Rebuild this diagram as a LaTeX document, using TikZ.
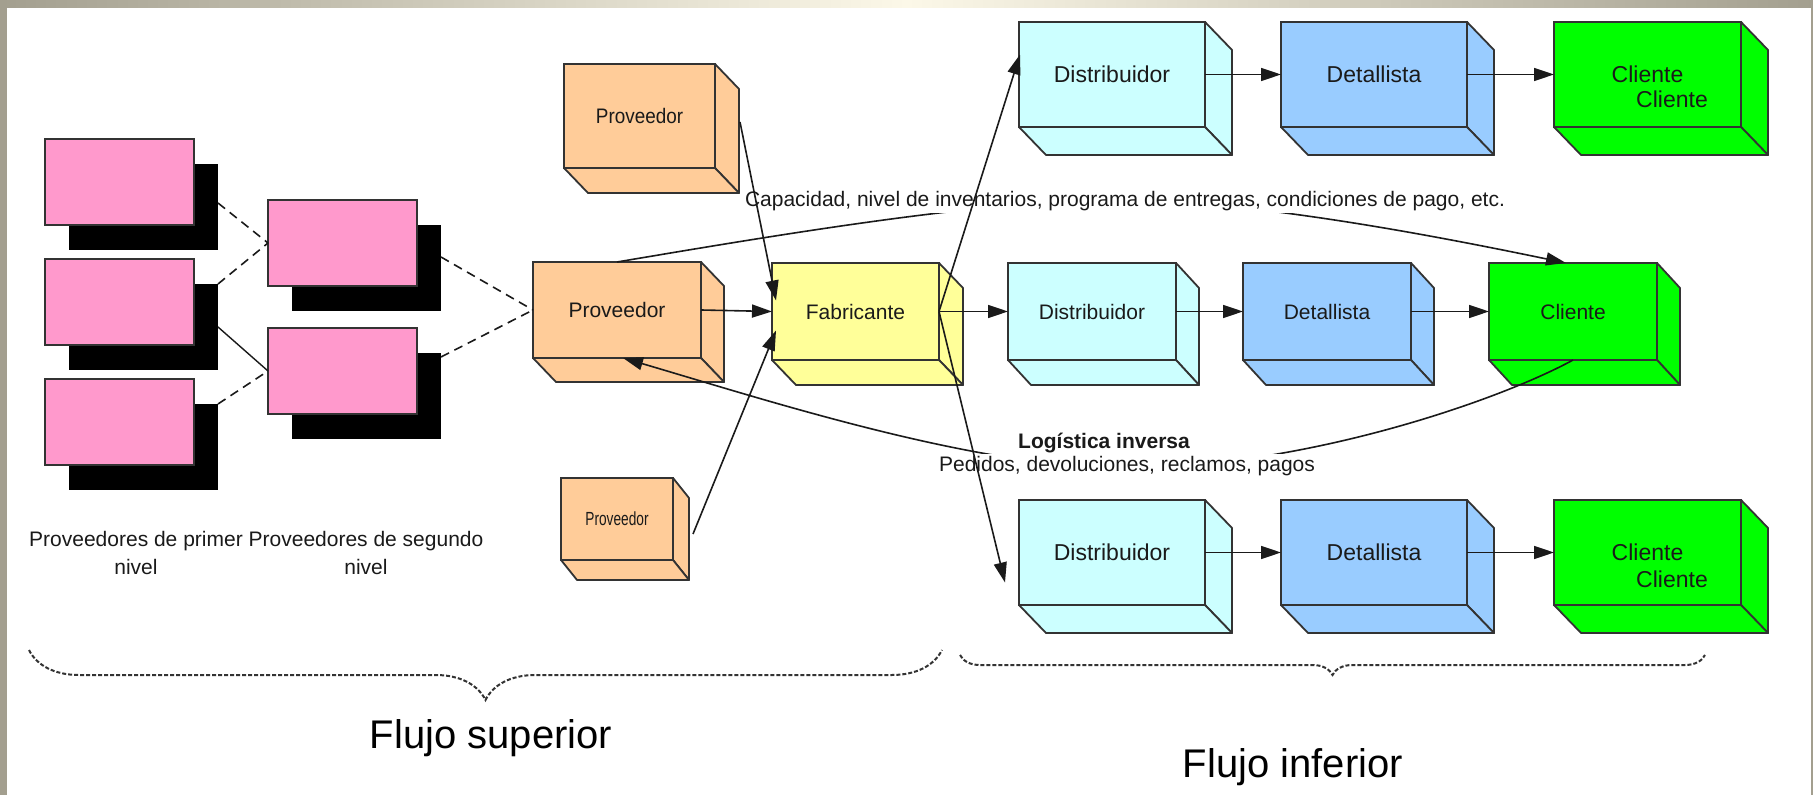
\documentclass[tikz,border=0pt]{standalone}
\usepackage{fontspec}
\setmainfont{Liberation Sans}
\usepackage{graphicx}
\usetikzlibrary{arrows.meta,calc,decorations.pathreplacing}
\definecolor{framegray}{HTML}{A39F8F}
\definecolor{framecream}{HTML}{FCF8E8}
\definecolor{edgecol}{HTML}{333333}
\definecolor{linecol}{HTML}{1A1A1A}
\definecolor{txtcol}{HTML}{1A1A1A}
\definecolor{pinkc}{HTML}{FF99CC}
\definecolor{peach}{HTML}{FFCC99}
\definecolor{yell}{HTML}{FFFF99}
\definecolor{cyanc}{HTML}{CCFFFF}
\definecolor{bluec}{HTML}{99CCFF}
\definecolor{greenc}{HTML}{00FF00}
\definecolor{bracecol}{HTML}{333333}
\newcommand{\myfsA}{\fontsize{11.5}{13.8}\selectfont}
\newcommand{\myfsB}{\fontsize{10.5}{12.6}\selectfont}
\newcommand{\mycube}[9]{%
  \node[cubeface, fill=#8, minimum width=#4*0.5pt, minimum height=#5*0.5pt, anchor=north west] (#1) at (#2,#3) {#9};
  \filldraw[cubeedge, fill=#8] (#1.north east) -- ++(#6,#7) -- ++(0,#5) -- (#1.south east) -- cycle;
  \filldraw[cubeedge, fill=#8] (#1.south west) -- ++(#6,#7) -- ++(#4,0) -- (#1.south east) -- cycle;
}
\begin{document}
\begin{tikzpicture}[x=0.5pt,y=-0.5pt,
  cubeface/.style={draw=edgecol, line width=0.9pt, inner sep=0pt, outer sep=0pt, text=txtcol},
  cubeedge/.style={draw=edgecol, line width=0.9pt, line join=round},
  conn/.style={draw=linecol, line width=0.8pt, -{Triangle[length=10pt,width=6.5pt]}},
  plainline/.style={draw=linecol, line width=0.7pt},
  dashline/.style={draw=linecol, line width=0.8pt, dash pattern=on 4.5pt off 3pt},
  pinkbox/.style={draw=edgecol, fill=pinkc, line width=0.8pt, minimum width=74.5pt, minimum height=43pt, inner sep=0pt, outer sep=0pt, anchor=north west},
  shadowbox/.style={fill=black, minimum width=74.5pt, minimum height=43pt, inner sep=0pt, outer sep=0pt, anchor=north west},
  lbl/.style={text=txtcol, inner sep=1pt, font=\myfsB},
  bracestyle/.style={draw=bracecol, line width=1pt, dash pattern=on 2pt off 1pt, decorate},
  flujo/.style={text=black, font=\fontsize{20}{24}\selectfont}
]
\useasboundingbox (0,0) rectangle (1813,795);
\fill[white] (0,0) rectangle (1813,795);
\shade[left color=framegray, right color=framegray, middle color=framecream] (0,0) rectangle (1813,8);
\fill[framegray] (0,0) rectangle (7,795);
\fill[framegray] (1811,0) rectangle (1813,795);

% pink supplier boxes
\node[shadowbox] (p1as) at (69,164) {};
\node[pinkbox] (p1a) at (45,139) {};
\node[shadowbox] (p1bs) at (69,284) {};
\node[pinkbox] (p1b) at (45,259) {};
\node[shadowbox] (p1cs) at (69,404) {};
\node[pinkbox] (p1c) at (45,379) {};
\node[shadowbox] (p2as) at (292,225) {};
\node[pinkbox] (p2a) at (268,200) {};
\node[shadowbox] (p2bs) at (292,353) {};
\node[pinkbox] (p2b) at (268,328) {};

\node[lbl, align=center, font=\fontsize{10.5}{14}\selectfont] (l1) at (136,553) {Proveedores de primer\\nivel};
\node[lbl, align=center, font=\fontsize{10.5}{14}\selectfont] (l2) at (366,553) {Proveedores de segundo\\nivel};

% cubes
\mycube{provTop}{564}{64}{151}{104}{24}{25}{peach}{\myfsB\scalebox{0.9}[1]{Proveedor}}
\mycube{provMain}{533}{262}{168}{96}{23}{24}{peach}{\myfsB Proveedor}
\mycube{fab}{772}{263}{167}{97}{24}{25}{yell}{\myfsB Fabricante}
\mycube{provBot}{561}{478}{112}{82}{16}{20}{peach}{\fontsize{9.5}{11}\selectfont\scalebox{0.72}[1]{Proveedor}}

\mycube{dist1}{1019}{22}{186}{105}{27}{28}{cyanc}{\myfsA Distribuidor}
\mycube{det1}{1281}{22}{186}{105}{27}{28}{bluec}{\myfsA Detallista}
\mycube{cli1}{1554}{22}{187}{105}{27}{28}{greenc}{\myfsA Cliente}
\node[lbl, font=\myfsA] (cli1b) at (1672,99) {Cliente};

\mycube{dist2}{1008}{263}{168}{97}{23}{25}{cyanc}{\myfsB Distribuidor}
\mycube{det2}{1243}{263}{168}{97}{23}{25}{bluec}{\myfsB Detallista}
\mycube{cli2}{1489}{263}{168}{97}{23}{25}{greenc}{\myfsB Cliente}

\mycube{dist3}{1019}{500}{186}{105}{27}{28}{cyanc}{\myfsA Distribuidor}
\mycube{det3}{1281}{500}{186}{105}{27}{28}{bluec}{\myfsA Detallista}
\mycube{cli3}{1554}{500}{187}{105}{27}{28}{greenc}{\myfsA Cliente}
\node[lbl, font=\myfsA] (cli3b) at (1672,579) {Cliente};

% dashed / solid links between suppliers
\draw[dashline] ($(p1as.north east)+(0,39)$) -- (p2a.west);
\draw[dashline] (p1bs.north east) -- (p2a.west);
\draw[plainline] (p1bs.east) -- (p2b.west);
\draw[dashline] (p1cs.north east) -- (p2b.west);
\draw[dashline] ($(p2as.north east)+(0,32)$) -- (provMain.west);
\draw[dashline] ($(p2bs.north east)+(0,4)$) -- (provMain.west);

% curved information flows
\coordinate (capmid) at (1117,200);
\draw[conn] (provMain.north) .. controls +(143,-24) and +(-137,0) .. (capmid)
  .. controls +(133,0) and +(-130,-27) .. ($(cli2.north)+(-7,0)$);
\coordinate (logmid) at (1125,468);
\draw[conn] (cli2.south) .. controls +(-73,40) and +(180,0) .. (logmid)
  .. controls +(-150,0) and +(143,42) .. ($(provMain.south)+(6,0)$);

% labels hiding curves
\node[lbl, fill=white] (cap) at (1125,201) {Capacidad, nivel de inventarios, programa de entregas, condiciones de pago, etc.};
\node[lbl, fill=white, font=\myfsB\bfseries] (logi) at (1104,443) {Logística inversa};
\node[lbl, fill=white] (ped) at (1127,466) {Pedidos, devoluciones, reclamos, pagos};

% straight connectors
\draw[conn] ($(provTop.east)+(25,6)$) -- ($(fab.west)+(4,-11)$);
\draw[conn] (provMain.east) -- (fab.west);
\draw[conn] ($(provBot.east)+(20,15)$) -- ($(fab.west)+(4,19)$);
\draw[conn] (fab.east) -- ($(dist1.west)+(1,-20)$);
\draw[conn] (fab.east) -- (dist2.west);
\draw[conn] (fab.east) -- ($(dist3.west)+(-14,30)$);
\draw[conn] (dist1.east) -- (det1.west);
\draw[conn] (det1.east) -- (cli1.west);
\draw[conn] (dist2.east) -- (det2.west);
\draw[conn] (det2.east) -- (cli2.west);
\draw[conn] (dist3.east) -- (det3.west);
\draw[conn] (det3.east) -- (cli3.west);

% braces
\coordinate (bsa) at (29,650);
\coordinate (bsb) at (942,650);
\coordinate (bia) at (960,655);
\coordinate (bib) at (1705,655);
\draw[bracestyle, decoration={brace, mirror, amplitude=25pt}] (bsa) -- (bsb);
\draw[bracestyle, decoration={brace, mirror, amplitude=10pt}] (bia) -- (bib);

\node[flujo] (fsup) at (491,738) {Flujo superior};
\node[flujo] (finf) at (1293,767) {Flujo inferior};
\end{tikzpicture}
\end{document}
